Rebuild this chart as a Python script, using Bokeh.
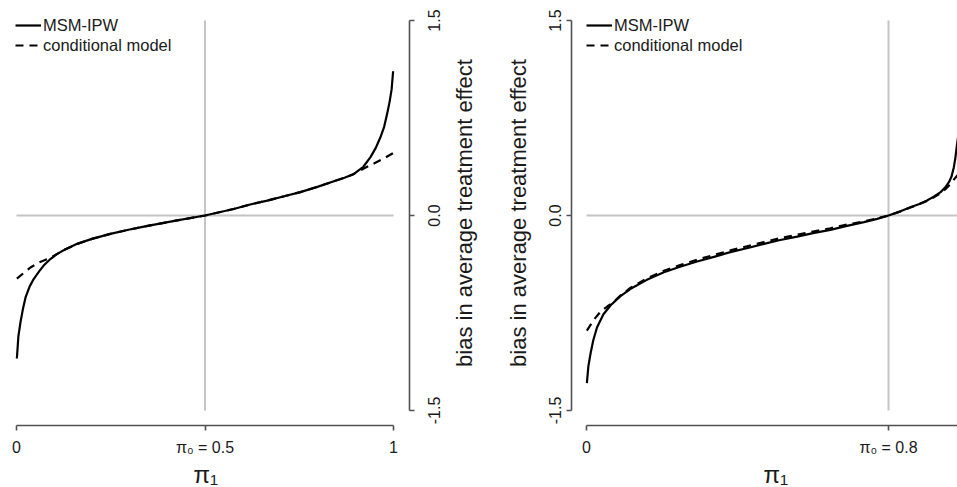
import math
from bokeh.plotting import figure
from bokeh.layouts import row
from bokeh.models import FixedTicker, Legend, LegendItem, LinearAxis, Title
from bokeh.embed import file_html
from bokeh.resources import INLINE

# ---------------- data ----------------
y_ticks = [-1.5, 0.0, 1.5]
y_tick_labels = ["-1.5", "0.0", "1.5"]

left_pi0 = 0.5
left_x_ticks = [0, 0.5, 1]
left_x_tick_labels = ["0", "π₀ = 0.5", "1"]

right_pi0 = 0.8
right_x_ticks = [0, 0.8, 1]
right_x_tick_labels = ["0", "π₀ = 0.8", "1"]

left_msm_x = [0.001, 0.005, 0.0106, 0.017, 0.024, 0.035, 0.046, 0.06, 0.072, 0.09, 0.108, 0.13, 0.161, 0.2,
              0.249, 0.3, 0.338, 0.38, 0.426, 0.5, 0.576, 0.62, 0.665, 0.71, 0.753, 0.8, 0.842, 0.87, 0.895,
              0.92, 0.939, 0.953, 0.965, 0.975, 0.983, 0.99, 0.995, 0.999]
left_msm_y = [-1.10, -0.93, -0.82, -0.72, -0.63, -0.545, -0.487, -0.43, -0.385, -0.335, -0.295, -0.26, -0.218, -0.18,
              -0.141, -0.108, -0.085, -0.062, -0.038, 0.0, 0.05, 0.085, 0.115, 0.148, 0.18, 0.222, 0.264, 0.29, 0.32,
              0.375, 0.449, 0.52, 0.60, 0.68, 0.78, 0.88, 0.97, 1.11]

left_cond_x = [0.001, 0.02, 0.037, 0.06, 0.09, 0.108, 0.13, 0.161, 0.2, 0.249, 0.3, 0.338, 0.38, 0.426, 0.5,
               0.576, 0.62, 0.665, 0.71, 0.753, 0.8, 0.842, 0.87, 0.895, 0.92, 0.948, 0.975, 0.999]
left_cond_y = [-0.485, -0.44, -0.40, -0.36, -0.325, -0.295, -0.26, -0.218, -0.18, -0.141, -0.108, -0.085, -0.062,
               -0.038, 0.0, 0.05, 0.085, 0.115, 0.148, 0.18, 0.222, 0.264, 0.29, 0.32, 0.36, 0.40, 0.44, 0.48]

right_msm_x = [0.001, 0.005, 0.0106, 0.018, 0.028, 0.045, 0.064, 0.09, 0.117, 0.16, 0.205, 0.25, 0.293, 0.34,
               0.381, 0.43, 0.47, 0.51, 0.558, 0.6, 0.646, 0.69, 0.735, 0.77, 0.8, 0.83, 0.858, 0.88, 0.902,
               0.92, 0.938, 0.95, 0.96, 0.967, 0.973, 0.977, 0.98, 0.985, 0.99, 0.999]
right_msm_y = [-1.29, -1.16, -1.064, -0.96, -0.86, -0.76, -0.69, -0.62, -0.564, -0.495, -0.436, -0.392, -0.354,
               -0.316, -0.282, -0.248, -0.218, -0.19, -0.162, -0.136, -0.11, -0.08, -0.051, -0.026, 0.0, 0.03,
               0.064, 0.087, 0.115, 0.145, 0.18, 0.215, 0.256, 0.30, 0.37, 0.44, 0.51, 0.62, 0.78, 1.2]

right_cond_x = [0.001, 0.02, 0.037, 0.055, 0.068, 0.09, 0.117, 0.16, 0.205, 0.25, 0.293, 0.34, 0.381, 0.43, 0.47,
                0.51, 0.558, 0.6, 0.646, 0.69, 0.735, 0.77, 0.8, 0.83, 0.858, 0.88, 0.902, 0.92, 0.938, 0.95,
                0.96, 0.97, 0.98, 0.99, 0.999]
right_cond_y = [-0.885, -0.80, -0.74, -0.70, -0.675, -0.615, -0.555, -0.484, -0.425, -0.38, -0.34, -0.302, -0.268,
                -0.234, -0.204, -0.176, -0.148, -0.123, -0.098, -0.07, -0.045, -0.022, 0.0, 0.03, 0.062, 0.085,
                0.112, 0.14, 0.172, 0.2, 0.23, 0.265, 0.30, 0.33, 0.36]

series_labels = ["MSM-IPW", "conditional model"]
y_title = "bias in average treatment effect"
x_title = "π₁"

FONT = "Liberation Sans"
AXIS_COLOR = "#505050"
REF_COLOR = "#c4c4c4"
TEXT_COLOR = "#1a1a1a"
Y_RANGE = (-1.6154, 1.654)


def style_axis(ax, ticks, labels, bounds):
    ax.ticker = FixedTicker(ticks=ticks)
    ax.major_label_overrides = {t: l for t, l in zip(ticks, labels)}
    ax.bounds = bounds
    ax.axis_line_color = AXIS_COLOR
    ax.axis_line_width = 1.6
    ax.major_tick_line_color = AXIS_COLOR
    ax.major_tick_line_width = 1.6
    ax.major_tick_in = 0
    ax.major_tick_out = 5
    ax.minor_tick_line_color = None
    ax.major_label_text_font = FONT
    ax.major_label_text_font_size = "16px"
    ax.major_label_text_color = TEXT_COLOR
    ax.axis_label_text_font = FONT
    ax.axis_label_text_font_style = "normal"
    ax.axis_label_text_font_size = "22px"
    ax.axis_label_text_color = TEXT_COLOR


def text_only_axis(ticks, labels, label_standoff, title=None, title_standoff=0):
    ax = LinearAxis(ticker=FixedTicker(ticks=ticks),
                    major_label_overrides={t: l for t, l in zip(ticks, labels)})
    ax.axis_line_color = None
    ax.major_tick_line_color = None
    ax.minor_tick_line_color = None
    ax.major_tick_in = 0
    ax.major_tick_out = 0
    ax.minor_tick_out = 0
    ax.major_label_standoff = label_standoff
    ax.major_label_orientation = "vertical"
    ax.major_label_text_font = FONT
    ax.major_label_text_font_size = "16px"
    ax.major_label_text_color = TEXT_COLOR
    if title:
        ax.axis_label = title
        ax.axis_label_standoff = title_standoff
        ax.axis_label_text_font = FONT
        ax.axis_label_text_font_style = "normal"
        ax.axis_label_text_font_size = "22px"
        ax.axis_label_text_color = TEXT_COLOR
    return ax


def make_panel(x_range, width, y_side, x_ticks, x_labels, pi0, msm_x, msm_y, cond_x, cond_y,
               border_left, border_right, title_offset):
    p = figure(width=width, height=487, x_range=x_range, y_range=Y_RANGE,
               output_backend="svg", toolbar_location=None, y_axis_location=y_side,
               min_border_left=border_left, min_border_right=border_right,
               min_border_top=0, min_border_bottom=62)
    p.grid.visible = False
    p.outline_line_color = None
    p.background_fill_color = "white"
    p.border_fill_color = "white"

    # reference lines at pi0 and zero bias
    p.segment(x0=[pi0], y0=[y_ticks[0]], x1=[pi0], y1=[y_ticks[-1]], line_color=REF_COLOR, line_width=2)
    p.segment(x0=[x_ticks[0]], y0=[0], x1=[x_ticks[-1]], y1=[0], line_color=REF_COLOR, line_width=2)

    r1 = p.line(msm_x, msm_y, line_color="black", line_width=2.2)
    r2 = p.line(cond_x, cond_y, line_color="black", line_width=2.2, line_dash="8 6")

    xa = p.xaxis[0]
    style_axis(xa, x_ticks, x_labels, (x_ticks[0], x_ticks[-1]))
    xa.major_label_standoff = 8

    p.add_layout(Title(text=x_title, align="left", offset=title_offset, standoff=0,
                       text_font=FONT, text_font_size="24px", text_font_style="normal",
                       text_color=TEXT_COLOR), "below")

    legend = Legend(items=[LegendItem(label=series_labels[0], renderers=[r1]),
                           LegendItem(label=series_labels[1], renderers=[r2])],
                    location=(15, 370), orientation="vertical",
                    border_line_color=None, background_fill_alpha=0,
                    label_text_font=FONT, label_text_font_size="16.5px", label_text_color=TEXT_COLOR,
                    glyph_width=26, glyph_height=20, label_height=20, label_standoff=2,
                    spacing=0, padding=0, margin=0)
    p.add_layout(legend)
    return p


# left panel: y axis line and ticks on its right side
left = make_panel((-0.04244, 1.04244), 420, "right", left_x_ticks, left_x_tick_labels, left_pi0,
                  left_msm_x, left_msm_y, left_cond_x, left_cond_y, 0, 11, 193)
lya = left.yaxis[0]
style_axis(lya, y_ticks, ["" for _ in y_ticks], (y_ticks[0], y_ticks[-1]))
lya.major_label_standoff = 0

# right panel: its own y axis on the left, plus the texts of the left panel's axis further out
right = make_panel((-0.0397, 0.9828), 537, "left", right_x_ticks, right_x_tick_labels, right_pi0,
                   right_msm_x, right_msm_y, right_cond_x, right_cond_y, 151, 0, 192)
rya = right.yaxis[0]
style_axis(rya, y_ticks, y_tick_labels, (y_ticks[0], y_ticks[-1]))
rya.major_label_orientation = "vertical"
rya.major_label_standoff = 5
rya.axis_label = y_title
rya.axis_label_standoff = 16

# title of the left panel's axis, then its tick labels (reading bottom to top)
right.add_layout(text_only_axis([], [], 0, title=y_title, title_standoff=26), "left")
right.add_layout(text_only_axis(y_ticks, y_tick_labels, 8), "left")

layout = row(left, right, spacing=0)
open("out.html", "w").write(file_html(layout, INLINE))
